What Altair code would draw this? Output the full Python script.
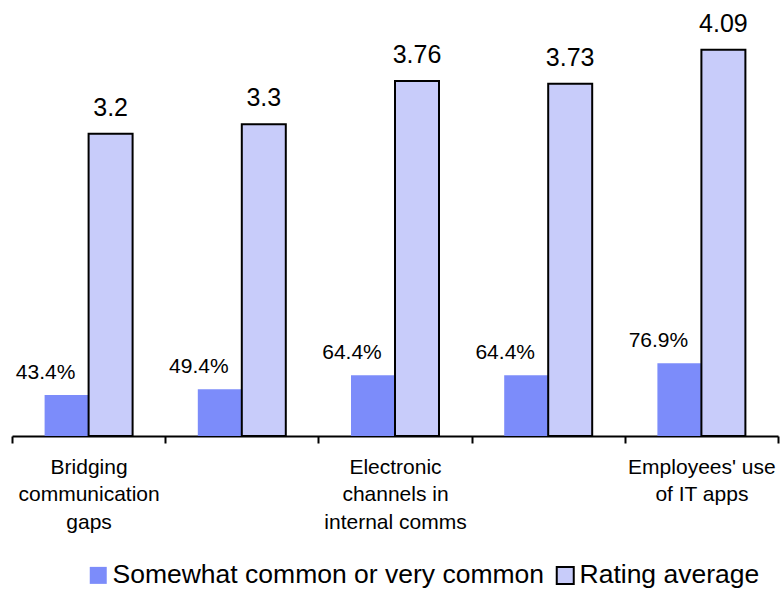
import json
import altair as alt
import pandas as pd

FONT = "Liberation Sans"

categories = [
    "Bridging communication gaps",
    "Item 2",
    "Electronic channels in internal comms",
    "Item 4",
    "Employees' use of IT apps",
]
label_lines = [
    ["Bridging", "communication", "gaps"],
    None,
    ["Electronic", "channels in", "internal comms"],
    None,
    ["Employees' use", "of IT apps"],
]
series = ["Somewhat common or very common", "Rating average"]
pct_values = [0.434, 0.494, 0.644, 0.644, 0.769]
pct_labels = ["43.4%", "49.4%", "64.4%", "64.4%", "76.9%"]
rating_values = [3.2, 3.3, 3.76, 3.73, 4.09]
rating_labels = ["3.2", "3.3", "3.76", "3.73", "4.09"]
colors = ["#7C8CFA", "#C8CCFA"]

rows = []
for i, c in enumerate(categories):
    rows.append({"Category": c, "Series": series[0], "Value": pct_values[i], "Label": pct_labels[i]})
    rows.append({"Category": c, "Series": series[1], "Value": rating_values[i], "Label": rating_labels[i]})
df = pd.DataFrame(rows)

expr = ""
for c, lines in zip(categories, label_lines):
    val = json.dumps(lines) if lines else "''"
    expr += f"datum.value === {json.dumps(c)} ? {val} : "
expr += "''"

legend = alt.Legend(
    title=None,
    orient="none",
    legendX=73,
    legendY=551,
    direction="horizontal",
    labelFontSize=26.5,
    labelFont=FONT,
    labelColor="black",
    labelLimit=600,
    labelOffset=1,
    symbolType="square",
    symbolSize=289,
    symbolStrokeWidth=2,
    columnPadding=7,
)

base = alt.Chart(df).encode(
    x=alt.X(
        "Category:N",
        sort=categories,
        scale=alt.Scale(paddingInner=0, paddingOuter=0),
        axis=alt.Axis(
            title=None,
            labelAngle=0,
            labelExpr=expr,
            labelFont=FONT,
            labelFontSize=21,
            labelColor="black",
            labelLineHeight=27.5,
            labelPadding=13,
            labelLimit=300,
            domainColor="black",
            domainWidth=2,
            tickColor="black",
            tickWidth=2,
            tickSize=7,
            tickBand="extent",
        ),
    ),
    xOffset=alt.XOffset(
        "Series:N",
        sort=series,
        scale=alt.Scale(domain=series, paddingInner=0, paddingOuter=0.741),
    ),
    y=alt.Y("Value:Q", scale=alt.Scale(domain=[0, 4.5], nice=False), axis=None),
)

bars = base.mark_bar(strokeWidth=2).encode(
    color=alt.Color("Series:N", scale=alt.Scale(domain=series, range=colors), legend=legend),
    stroke=alt.Stroke("Series:N", scale=alt.Scale(domain=series, range=["transparent", "black"]), legend=legend),
)

rating_text = base.mark_text(
    font=FONT, fontSize=25, baseline="alphabetic", dy=-18, color="black"
).encode(text="Label:N").transform_filter(alt.datum.Series == series[1])

pct_text = base.mark_text(
    font=FONT, fontSize=21, baseline="alphabetic", dy=-16, dx=-21, color="black"
).encode(text="Label:N").transform_filter(alt.datum.Series == series[0])

chart = (
    alt.layer(bars, rating_text, pct_text)
    .properties(
        width=766,
        height=425,
        autosize=alt.AutoSizeParams(type="none"),
        padding={"left": 12, "top": 11, "right": 3, "bottom": 154},
    )
    .configure_view(stroke=None)
)

chart.save("out.html", embed_options={"renderer": "svg", "actions": False})
